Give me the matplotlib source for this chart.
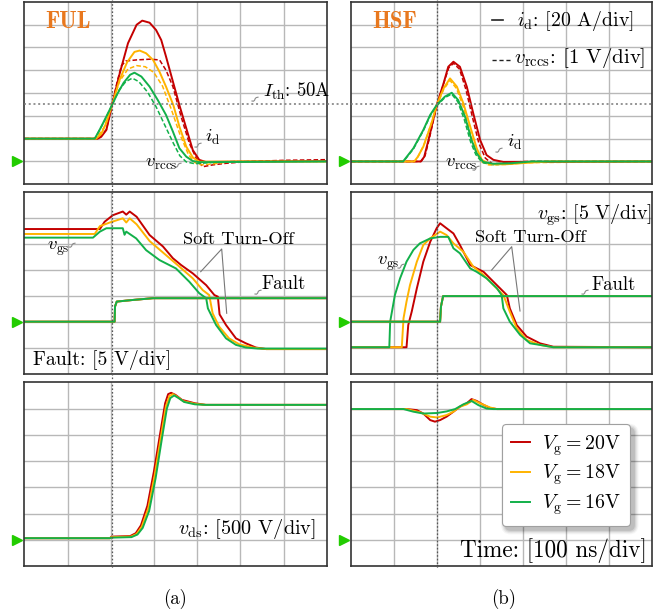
import matplotlib
matplotlib.use('Agg')
import matplotlib.pyplot as plt
from matplotlib.lines import Line2D
from matplotlib.patches import FancyBboxPatch
from matplotlib.transforms import IdentityTransform

plt.rcParams['mathtext.fontset'] = 'cm'
plt.rcParams['font.family'] = 'cmr10'
plt.rcParams['axes.formatter.use_mathtext'] = True

# ---------------- data (in screen divisions) ----------------
labels_vg = ['20V', '18V', '16V']

# FUL, i_d (solid)
ful_id_20_t = [0, 1.70, 1.78, 1.90, 2.03, 2.21, 2.40, 2.60, 2.73, 2.90, 3.05, 3.17, 3.28, 3.44, 3.59, 3.75, 3.90, 4.05, 4.20, 5.5, 7.0]
ful_id_20_v = [2.0, 2.0, 2.08, 2.38, 3.47, 4.87, 6.18, 6.99, 7.17, 7.08, 6.76, 6.32, 5.60, 4.50, 3.47, 2.45, 1.50, 1.07, 0.98, 1.0, 1.02]
ful_id_18_t = [0, 1.66, 1.78, 1.90, 2.03, 2.20, 2.38, 2.55, 2.67, 2.82, 2.98, 3.13, 3.28, 3.45, 3.59, 3.75, 3.90, 4.05, 5.5, 7.0]
ful_id_18_v = [2.0, 2.0, 2.2, 2.7, 3.47, 4.55, 5.35, 5.8, 5.86, 5.74, 5.45, 4.93, 4.28, 3.47, 2.53, 1.65, 1.18, 0.99, 1.0, 1.0]
ful_id_16_t = [0, 1.63, 1.72, 1.82, 1.92, 2.03, 2.15, 2.30, 2.45, 2.55, 2.71, 2.90, 3.09, 3.28, 3.44, 3.59, 3.75, 3.90, 4.05, 7.0]
ful_id_16_v = [2.0, 2.0, 2.3, 2.67, 3.05, 3.47, 3.95, 4.45, 4.8, 4.89, 4.72, 4.28, 3.69, 3.04, 2.31, 1.58, 1.21, 1.02, 0.97, 1.0]
# FUL, v_rccs (dashed)
ful_vr_20_t = [0, 1.72, 1.90, 2.03, 2.15, 2.25, 2.35, 2.60, 2.90, 3.13, 3.28, 3.44, 3.63, 3.82, 3.98, 4.13, 4.36, 4.67, 5.20, 6.0, 7.0]
ful_vr_20_v = [2.0, 2.0, 2.4, 3.47, 4.5, 5.2, 5.4, 5.45, 5.48, 5.45, 5.0, 4.28, 2.96, 1.8, 1.14, 0.77, 0.85, 0.92, 1.0, 1.05, 1.08]
ful_vr_18_t = [0, 1.66, 1.85, 2.03, 2.20, 2.40, 2.60, 2.80, 3.00, 3.20, 3.40, 3.60, 3.80, 3.95, 4.10, 4.40, 4.80, 7.0]
ful_vr_18_v = [2.0, 2.0, 2.5, 3.47, 4.5, 5.05, 5.2, 5.15, 4.9, 4.3, 3.3, 2.2, 1.3, 0.95, 0.85, 0.9, 1.0, 1.0]
ful_vr_16_t = [0, 1.63, 1.85, 2.03, 2.20, 2.35, 2.50, 2.65, 2.85, 3.05, 3.25, 3.45, 3.60, 3.75, 3.95, 4.30, 4.80, 7.0]
ful_vr_16_v = [2.0, 2.0, 2.75, 3.47, 4.15, 4.5, 4.65, 4.5, 4.05, 3.4, 2.6, 1.8, 1.25, 0.98, 0.9, 0.95, 1.0, 1.0]

# HSF, i_d (solid)
hsf_id_20_t = [0, 1.62, 1.70, 1.80, 1.91, 1.99, 2.15, 2.26, 2.38, 2.53, 2.69, 2.84, 3.00, 3.15, 3.31, 3.54, 7.0]
hsf_id_20_v = [1.0, 1.0, 1.2, 1.94, 2.82, 3.47, 4.42, 5.15, 5.37, 5.15, 4.28, 3.11, 1.94, 1.28, 1.07, 0.98, 1.0]
hsf_id_18_t = [0, 1.47, 1.55, 1.68, 1.87, 1.99, 2.15, 2.30, 2.46, 2.61, 2.77, 2.92, 3.04, 3.23, 3.62, 4.08, 4.60, 7.0]
hsf_id_18_v = [1.0, 1.0, 1.2, 1.65, 2.67, 3.47, 4.2, 4.64, 4.28, 3.55, 2.53, 1.58, 1.07, 0.88, 0.88, 0.94, 1.0, 1.0]
hsf_id_16_t = [0, 1.21, 1.45, 1.68, 1.84, 1.99, 2.18, 2.34, 2.49, 2.65, 2.80, 2.92, 3.07, 3.30, 3.70, 4.20, 7.0]
hsf_id_16_v = [1.0, 1.0, 1.58, 2.38, 3.04, 3.47, 3.84, 4.01, 3.69, 2.96, 1.94, 1.36, 0.98, 0.9, 0.92, 1.0, 1.0]
# HSF, v_rccs (dashed)
hsf_vr_20_t = [0, 1.63, 1.72, 1.82, 1.92, 2.00, 2.15, 2.27, 2.38, 2.52, 2.67, 2.82, 2.97, 3.12, 3.28, 3.50, 4.0, 7.0]
hsf_vr_20_v = [1.0, 1.0, 1.25, 2.0, 2.85, 3.45, 4.4, 5.1, 5.3, 5.05, 4.15, 2.95, 1.8, 1.15, 0.9, 0.92, 1.0, 1.0]
hsf_vr_18_t = [0, 1.48, 1.57, 1.70, 1.88, 2.00, 2.15, 2.30, 2.45, 2.60, 2.75, 2.90, 3.02, 3.20, 3.60, 4.10, 7.0]
hsf_vr_18_v = [1.0, 1.0, 1.25, 1.75, 2.75, 3.45, 4.15, 4.55, 4.2, 3.45, 2.4, 1.45, 1.0, 0.85, 0.87, 0.95, 1.0]
hsf_vr_16_t = [0, 1.22, 1.45, 1.68, 1.84, 2.00, 2.18, 2.34, 2.48, 2.63, 2.78, 2.90, 3.05, 3.30, 3.70, 4.20, 7.0]
hsf_vr_16_v = [1.0, 1.0, 1.55, 2.35, 3.0, 3.45, 3.8, 3.95, 3.62, 2.85, 1.85, 1.3, 0.95, 0.86, 0.9, 1.0, 1.0]

# FUL, v_gs and fault
ful_vgs_20_t = [0, 1.75, 1.86, 2.05, 2.28, 2.36, 2.44, 2.60, 2.90, 3.21, 3.44, 3.63, 3.90, 4.21, 4.40, 4.48, 4.52, 4.67, 4.90, 5.13, 5.36, 5.60, 7.0]
ful_vgs_20_v = [5.57, 5.57, 5.85, 6.10, 6.24, 6.12, 6.24, 6.04, 5.34, 4.90, 4.45, 4.19, 3.87, 3.42, 3.04, 2.98, 2.30, 1.89, 1.38, 1.19, 1.03, 0.97, 0.97]
ful_vgs_18_t = [0, 1.63, 1.75, 1.98, 2.28, 2.36, 2.44, 2.60, 2.90, 3.28, 3.59, 3.90, 4.13, 4.28, 4.36, 4.51, 4.74, 4.98, 5.29, 5.60, 7.0]
ful_vgs_18_v = [5.38, 5.38, 5.68, 5.82, 5.98, 5.82, 5.98, 5.75, 5.11, 4.57, 4.13, 3.68, 3.23, 3.04, 2.34, 1.83, 1.38, 1.15, 1.03, 0.97, 0.97]
ful_vgs_16_t = [0, 1.59, 1.75, 1.90, 2.28, 2.32, 2.36, 2.59, 2.82, 3.13, 3.51, 3.82, 4.05, 4.21, 4.25, 4.44, 4.67, 4.90, 5.13, 5.40, 7.0]
ful_vgs_16_v = [5.24, 5.24, 5.47, 5.60, 5.60, 5.35, 5.47, 5.21, 4.76, 4.38, 4.06, 3.55, 3.11, 2.92, 2.53, 1.89, 1.38, 1.13, 1.03, 0.99, 0.99]
ful_fault_t = [0, 2.09, 2.10, 2.14, 2.50, 2.98, 7.0]
ful_fault_v = [2.02, 2.02, 2.60, 2.79, 2.85, 2.92, 2.92]

# HSF, v_gs and fault
hsf_vgs_20_t = [0, 1.29, 1.33, 1.41, 1.53, 1.68, 1.84, 1.99, 2.07, 2.22, 2.38, 2.53, 2.77, 3.08, 3.31, 3.62, 3.69, 3.85, 4.08, 4.39, 4.70, 7.0]
hsf_vgs_20_v = [1.04, 1.04, 1.89, 2.40, 3.30, 4.32, 5.08, 5.60, 5.79, 5.60, 5.40, 4.96, 4.19, 3.93, 3.55, 3.04, 2.53, 1.89, 1.45, 1.19, 1.06, 1.04]
hsf_vgs_18_t = [0, 1.18, 1.22, 1.29, 1.37, 1.53, 1.68, 1.84, 2.07, 2.22, 2.38, 2.61, 2.84, 3.08, 3.31, 3.54, 3.69, 3.85, 4.08, 4.39, 4.70, 7.0]
hsf_vgs_18_v = [1.04, 1.04, 2.15, 2.79, 3.42, 4.32, 4.96, 5.21, 5.47, 5.34, 5.02, 4.70, 4.13, 3.81, 3.42, 3.04, 2.40, 1.77, 1.32, 1.13, 1.04, 1.04]
hsf_vgs_16_t = [0, 0.89, 0.91, 1.02, 1.14, 1.29, 1.45, 1.60, 1.84, 2.07, 2.26, 2.38, 2.53, 2.77, 2.92, 3.15, 3.39, 3.50, 3.54, 3.69, 3.93, 4.16, 4.39, 4.70, 7.0]
hsf_vgs_16_v = [1.04, 1.04, 2.02, 3.04, 3.68, 4.32, 4.77, 5.02, 5.21, 5.27, 5.27, 4.83, 4.64, 4.06, 3.93, 3.68, 3.30, 3.04, 2.53, 2.02, 1.51, 1.19, 1.13, 1.04, 1.04]
hsf_fault_t = [0, 2.07, 2.09, 2.14, 7.0]
hsf_fault_v = [2.02, 2.02, 2.60, 3.0, 3.0]

# FUL, v_ds
ful_vds_20_t = [0, 1.98, 2.02, 2.45, 2.58, 2.70, 2.85, 3.00, 3.15, 3.26, 3.33, 3.40, 3.50, 3.65, 3.95, 4.20, 7.0]
ful_vds_20_v = [1.06, 1.06, 1.12, 1.14, 1.25, 1.55, 2.3, 3.6, 5.1, 6.2, 6.55, 6.6, 6.52, 6.33, 6.2, 6.14, 6.14]
ful_vds_18_t = [0, 1.98, 2.02, 2.47, 2.60, 2.72, 2.87, 3.02, 3.17, 3.28, 3.36, 3.44, 3.54, 3.68, 3.95, 4.20, 7.0]
ful_vds_18_v = [1.06, 1.06, 1.10, 1.12, 1.22, 1.5, 2.2, 3.47, 5.0, 6.1, 6.48, 6.55, 6.45, 6.28, 6.18, 6.14, 6.14]
ful_vds_16_t = [0, 1.98, 2.02, 2.48, 2.62, 2.74, 2.89, 3.04, 3.19, 3.30, 3.38, 3.47, 3.57, 3.70, 3.95, 4.20, 7.0]
ful_vds_16_v = [1.06, 1.06, 1.08, 1.10, 1.2, 1.45, 2.1, 3.35, 4.9, 6.0, 6.4, 6.5, 6.4, 6.25, 6.16, 6.14, 6.14]

# HSF, v_ds
hsf_vds_20_t = [0, 1.29, 1.53, 1.68, 1.84, 1.95, 2.07, 2.22, 2.38, 2.53, 2.69, 2.80, 2.92, 3.08, 3.23, 3.39, 7.0]
hsf_vds_20_v = [5.98, 5.98, 5.94, 5.81, 5.56, 5.50, 5.56, 5.69, 5.88, 6.07, 6.20, 6.36, 6.29, 6.14, 6.02, 5.98, 5.98]
hsf_vds_18_t = [0, 1.29, 1.60, 1.84, 2.00, 2.22, 2.38, 2.53, 2.69, 2.84, 3.00, 3.23, 3.39, 7.0]
hsf_vds_18_v = [5.98, 5.98, 5.86, 5.69, 5.66, 5.75, 5.88, 6.07, 6.16, 6.33, 6.20, 6.04, 5.98, 5.98]
hsf_vds_16_t = [0, 1.22, 1.45, 1.68, 2.00, 2.22, 2.42, 2.61, 2.80, 2.96, 3.15, 3.31, 7.0]
hsf_vds_16_v = [5.98, 5.98, 5.88, 5.81, 5.83, 5.89, 5.98, 6.16, 6.29, 6.13, 6.00, 5.98, 5.98]

zero_levels = [1, 2, 1]   # green marker level (div) for rows
cursor_div = [2.03, 2.0]  # trigger cursor per column
ith_div = 3.5             # I_th: 50 A

# ---------------- style ----------------
W, H = 668, 615
C = ['#C40000', '#FFB300', '#12B04A']
GRID = '#B8B8B8'
MARK = '#22CC00'
ORANGE = '#E8781E'

fig = plt.figure(figsize=(W / 100, H / 100), dpi=100)

cols = [(24.3, 326.7), (351.0, 652.3)]
rows = [(1.7, 184.3, 8), (191.7, 374.4, 7), (382.3, 566.0, 7)]

axes = {}
for ci, (x0, x1) in enumerate(cols):
    for ri, (y0, y1, nd) in enumerate(rows):
        ax = fig.add_axes([x0 / W, 1 - y1 / H, (x1 - x0) / W, (y1 - y0) / H])
        ax.set_xlim(0, 7)
        ax.set_ylim(0, nd)
        for i in range(1, 7):
            ax.axvline(i, color=GRID, lw=1.0, zorder=0)
        for j in range(1, nd):
            ax.axhline(j, color=GRID, lw=1.0, zorder=0)
        ax.set_xticks([])
        ax.set_yticks([])
        for s in ax.spines.values():
            s.set_color('#333333')
            s.set_linewidth(1.2)
        ax.plot([-0.17], [zero_levels[ri]], marker='>', color=MARK, ms=6.5,
                ls='none', clip_on=False)
        axes[(ci, ri)] = ax

lw = 1.4
# top row
ax = axes[(0, 0)]
for t, v, c in [(ful_vr_20_t, ful_vr_20_v, C[0]), (ful_vr_18_t, ful_vr_18_v, C[1]), (ful_vr_16_t, ful_vr_16_v, C[2])]:
    ax.plot(t, v, color=c, lw=1.1, ls=(0, (3, 1.5)))
for t, v, c in [(ful_id_20_t, ful_id_20_v, C[0]), (ful_id_18_t, ful_id_18_v, C[1]), (ful_id_16_t, ful_id_16_v, C[2])]:
    ax.plot(t, v, color=c, lw=lw)
ax = axes[(1, 0)]
for t, v, c in [(hsf_vr_20_t, hsf_vr_20_v, C[0]), (hsf_vr_18_t, hsf_vr_18_v, C[1]), (hsf_vr_16_t, hsf_vr_16_v, C[2])]:
    ax.plot(t, v, color=c, lw=1.1, ls=(0, (3, 1.5)))
for t, v, c in [(hsf_id_20_t, hsf_id_20_v, C[0]), (hsf_id_18_t, hsf_id_18_v, C[1]), (hsf_id_16_t, hsf_id_16_v, C[2])]:
    ax.plot(t, v, color=c, lw=lw)
# middle row
ax = axes[(0, 1)]
for t, v, c in [(ful_vgs_20_t, ful_vgs_20_v, C[0]), (ful_vgs_18_t, ful_vgs_18_v, C[1]), (ful_vgs_16_t, ful_vgs_16_v, C[2])]:
    ax.plot(t, v, color=c, lw=lw)
for c in C:
    ax.plot(ful_fault_t, ful_fault_v, color=c, lw=lw)
ax = axes[(1, 1)]
for t, v, c in [(hsf_vgs_20_t, hsf_vgs_20_v, C[0]), (hsf_vgs_18_t, hsf_vgs_18_v, C[1]), (hsf_vgs_16_t, hsf_vgs_16_v, C[2])]:
    ax.plot(t, v, color=c, lw=lw)
for c in C:
    ax.plot(hsf_fault_t, hsf_fault_v, color=c, lw=lw)
# bottom row
ax = axes[(0, 2)]
for t, v, c in [(ful_vds_20_t, ful_vds_20_v, C[0]), (ful_vds_18_t, ful_vds_18_v, C[1]), (ful_vds_16_t, ful_vds_16_v, C[2])]:
    ax.plot(t, v, color=c, lw=lw)
ax = axes[(1, 2)]
handles = []
for t, v, c in [(hsf_vds_20_t, hsf_vds_20_v, C[0]), (hsf_vds_18_t, hsf_vds_18_v, C[1]), (hsf_vds_16_t, hsf_vds_16_v, C[2])]:
    h, = ax.plot(t, v, color=c, lw=lw)
    handles.append(h)

leg = ax.legend(handles, [r'$V_\mathrm{g} = \mathrm{%s}$' % s for s in labels_vg],
                loc='upper left', bbox_to_anchor=(501.7 / W, 1 - 424.3 / H),
                bbox_transform=fig.transFigure, borderaxespad=0, fontsize=14.3,
                frameon=True, fancybox=True, framealpha=1, edgecolor='#A0A0A0',
                handlelength=1.0, handletextpad=0.6, labelspacing=0.25,
                borderpad=0.45)
leg.get_frame().set_linewidth(0.8)
leg.set_zorder(10)

# ---------------- figure-level helpers ----------------
def fline(xs, ys, **kw):
    fig.add_artist(Line2D([x / W for x in xs], [1 - y / H for y in ys],
                          transform=fig.transFigure, **kw))

def T(px, py, s, size=13, **kw):
    kw.setdefault('ha', 'left')
    kw.setdefault('va', 'baseline')
    fig.text(px / W, 1 - py / H, s, fontsize=size, **kw)

def squig(px, py):
    dx = [0, 1.5, 2.6, 3.2, 4.2, 6.0]
    dy = [0, 0.2, -0.8, -2.4, -3.4, -3.8]
    fline([px + a for a in dx], [py + b for b in dy], color='#8A8A8A', lw=0.8)

# trigger cursors and I_th threshold, computed through axes transforms
for ci in range(2):
    ax = axes[(ci, 0)]
    xd, _ = ax.transData.transform((cursor_div[ci], 0))
    fline([xd, xd], [0, 568], color='#555555', lw=0.9, ls=(0, (1.3, 1.6)))
ax_l, ax_r = axes[(0, 0)], axes[(1, 0)]
xa, ya = ax_l.transData.transform((0, ith_div))
xb, _ = ax_r.transData.transform((7, ith_div))
fline([xa, xb], [H - ya, H - ya], color='#777777', lw=1.1, ls=(0, (1.3, 1.8)))

# ---------------- texts ----------------
T(45, 28, 'FUL', size=16.5, color=ORANGE, family='cmb10')
T(372, 28, 'HSF', size=16.5, color=ORANGE, family='cmb10')

fline([492, 503], [20, 20], color='#222222', lw=1.2)
T(516.7, 26, r'$i_\mathrm{d}$: [20 A/div]', size=14.3)
fline([492, 512], [60, 60], color='#222222', lw=1.0, ls=(0, (3, 2)))
T(514, 63.3, r'$v_\mathrm{rccs}$: [1 V/div]', size=15)

T(263, 97.3, r'$I_\mathrm{th}$: 50A', size=13.5)
squig(252, 101)
T(205, 141.7, r'$i_\mathrm{d}$', size=13.5)
squig(195, 147)
T(145, 166.7, r'$v_\mathrm{rccs}$', size=13.5)
squig(175, 167)
T(506.7, 146.7, r'$i_\mathrm{d}$', size=13.5)
squig(496, 152)
T(445, 166.7, r'$v_\mathrm{rccs}$', size=13.5)
squig(473, 170)

T(46.7, 250, r'$v_\mathrm{gs}$', size=13.5)
squig(69, 247)
T(183, 244.3, 'Soft Turn-Off', size=13.3)
fline([200.7, 221.7, 226.7], [271.7, 249, 313.3], color='#777777', lw=0.8)
T(261.7, 289, 'Fault', size=13.5)
squig(255, 294)
T(33, 365, 'Fault: [5 V/div]', size=14.3)

T(537, 220, r'$v_\mathrm{gs}$: [5 V/div]', size=14.4)
T(475, 241.7, 'Soft Turn-Off', size=13.3)
fline([491.7, 511.7, 520], [270, 246.7, 311], color='#777777', lw=0.8)
T(376.7, 265, r'$v_\mathrm{gs}$', size=13.5)
squig(398, 268)
T(591.7, 290, 'Fault', size=13.5)
squig(582, 294)

T(178, 534.3, r'$v_\mathrm{ds}$: [500 V/div]', size=14.6)
T(460, 556.7, 'Time: [100 ns/div]', size=16.7)

T(175, 604, '(a)', size=13.5, ha='center')
T(503.5, 604, '(b)', size=13.5, ha='center')

# soft shadow behind the legend
fig.canvas.draw()
bb = leg.get_window_extent(fig.canvas.get_renderer())
axl = axes[(1, 2)]
for k, a in enumerate([0.10, 0.08, 0.06, 0.04]):
    p = 1.0 + k * 1.2
    sh = FancyBboxPatch((bb.x0 + 4 - p, bb.y0 - 4 - p), bb.width + 2 * p, bb.height + 2 * p,
                        boxstyle='round,pad=0,rounding_size=%g' % (5 + p),
                        transform=IdentityTransform(), facecolor='#000000',
                        edgecolor='none', alpha=a, zorder=9, clip_on=False)
    axl.add_patch(sh)

fig.savefig('out.png', dpi=100)
